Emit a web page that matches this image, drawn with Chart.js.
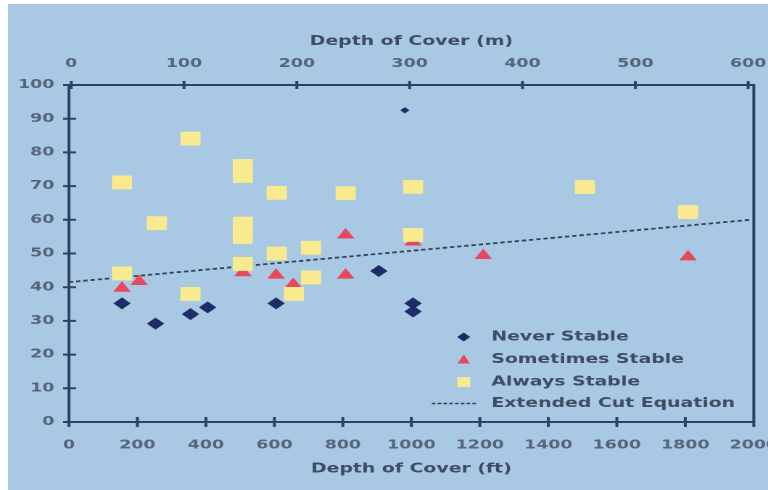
<!DOCTYPE html>
<html>
<head>
<meta charset="utf-8">
<script src="https://cdn.jsdelivr.net/npm/chart.js@4.4.1/dist/chart.umd.min.js"></script>
<style>
  html, body { margin: 0; padding: 0; background: #ffffff; overflow: hidden; }
  #wrap { position: absolute; left: 8px; top: 4px; width: 760px; height: 486px; background: #a8c8e4; }
  /* the slide photo is stretched sideways, so the canvas is too */
  #chart-canvas { display: block; filter: blur(0.5px); }
</style>
</head>
<body>
<div id="wrap">
  <canvas id="chart-canvas" width="524" height="486" style="width:760px;height:486px"></canvas>
</div>
<script>
// tick values
const ftTicks = [0, 200, 400, 600, 800, 1000, 1200, 1400, 1600, 1800, 2000];
const mTicks = [0, 100, 200, 300, 400, 500, 600];
// metre axis as printed on the slide (slightly off the exact ft conversion)
const mMin = -2;
const mMax = 605;

// Never Stable (diamonds)
const neverX = [155, 253, 355, 405, 605, 905, 1005, 1005, 981];
const neverY = [35.2, 29.2, 32, 34, 35.2, 44.8, 35.2, 32.8, 92.5];

// Sometimes Stable (triangles)
const sometimesX = [155, 205, 508, 605, 655, 808, 808, 1005, 1210, 1808];
const sometimesY = [39.7, 41.7, 44.3, 43.6, 40.8, 43.6, 55.5, 53.4, 49.4, 49];

// Always Stable (squares)
const alwaysX = [155, 155, 257, 355, 355, 508, 508, 508, 508, 508, 607, 607, 657, 707, 707, 808, 1005, 1005, 1507, 1808];
const alwaysY = [71.1, 44.1, 59, 84.1, 38, 76, 73, 58.9, 54.9, 46.9, 68, 50, 38, 51.7, 42.9, 67.9, 69.8, 55.5, 69.7, 62.3];

// Extended Cut Equation
const cutX = [0, 1990];
const cutY = [41.5, 60];

const legendLabels = ['Never Stable', 'Sometimes Stable', 'Always Stable', 'Extended Cut Equation'];

const axisColor = '#2e4360';
const tickColor = '#56657a';
const textColor = '#3f4d64';
const fontFamily = '"DejaVu Sans", sans-serif';

const colNever = '#1e2c68';
const colSometimes = '#e8475d';
const colAlways = '#f9ea90';
const colCut = '#36425a';

function toPoints(xs, ys) {
    return xs.map((x, i) => ({ x: x, y: ys[i] }));
}

// frame + crossing tick marks
const framePlugin = {
    id: 'frame',
    beforeDatasetsDraw(chart) {
        const { ctx, chartArea: a, scales } = chart;
        ctx.save();
        ctx.strokeStyle = axisColor;
        ctx.lineWidth = 2;
        ctx.beginPath();
        ctx.rect(a.left, a.top, a.right - a.left, a.bottom - a.top);
        scales.y.ticks.forEach(t => {
            const py = scales.y.getPixelForValue(t.value);
            ctx.moveTo(a.left - 4, py);
            ctx.lineTo(a.left + 5, py);
        });
        scales.x.ticks.forEach(t => {
            const px = scales.x.getPixelForValue(t.value);
            ctx.moveTo(px, a.bottom - 5);
            ctx.lineTo(px, a.bottom + 5);
        });
        scales.x2.ticks.forEach(t => {
            const px = scales.x2.getPixelForValue(t.value);
            ctx.moveTo(px, a.top - 4);
            ctx.lineTo(px, a.top + 4);
        });
        ctx.stroke();
        ctx.restore();
    }
};

// legend sits inside the plot, lower right
const legendPlugin = {
    id: 'innerLegend',
    afterDraw(chart) {
        const { ctx, chartArea: a } = chart;
        const mx = a.right - 200;
        const tx = a.right - 181;
        const rows = [a.bottom - 85, a.bottom - 62.5, a.bottom - 40, a.bottom - 18.5];
        ctx.save();

        // diamond
        ctx.fillStyle = colNever;
        ctx.beginPath();
        ctx.moveTo(mx, rows[0] - 4.5);
        ctx.lineTo(mx + 4.5, rows[0]);
        ctx.lineTo(mx, rows[0] + 4.5);
        ctx.lineTo(mx - 4.5, rows[0]);
        ctx.closePath();
        ctx.fill();

        // triangle
        ctx.fillStyle = colSometimes;
        ctx.beginPath();
        ctx.moveTo(mx, rows[1] - 5);
        ctx.lineTo(mx + 4.3, rows[1] + 4);
        ctx.lineTo(mx - 4.3, rows[1] + 4);
        ctx.closePath();
        ctx.fill();

        // square
        ctx.fillStyle = colAlways;
        ctx.fillRect(mx - 4.5, rows[2] - 5, 9, 10);

        // dashed sample
        ctx.strokeStyle = colCut;
        ctx.lineWidth = 1.5;
        ctx.setLineDash([2.5, 1.5]);
        ctx.beginPath();
        ctx.moveTo(a.right - 222, rows[3]);
        ctx.lineTo(a.right - 191.5, rows[3]);
        ctx.stroke();
        ctx.setLineDash([]);

        ctx.fillStyle = textColor;
        ctx.font = 'bold 13px ' + fontFamily;
        ctx.textAlign = 'left';
        ctx.textBaseline = 'middle';
        legendLabels.forEach((lbl, i) => ctx.fillText(lbl, tx, rows[i]));
        ctx.restore();
    }
};

const ctx = document.getElementById('chart-canvas').getContext('2d');

new Chart(ctx, {
    type: 'scatter',
    data: {
        datasets: [
            {
                label: 'Always Stable',
                data: toPoints(alwaysX, alwaysY),
                pointStyle: 'rect',
                pointRadius: 9.8,
                backgroundColor: colAlways,
                borderWidth: 0,
                order: 1
            },
            {
                label: 'Sometimes Stable',
                data: toPoints(sometimesX, sometimesY),
                pointStyle: 'triangle',
                pointRadius: 7,
                backgroundColor: colSometimes,
                borderWidth: 0,
                order: 2
            },
            {
                label: 'Never Stable',
                data: toPoints(neverX, neverY),
                pointStyle: 'rectRot',
                pointRadius: (c) => c.dataIndex === neverX.length - 1 ? 3.2 : 6,
                backgroundColor: colNever,
                borderWidth: 0,
                order: 3
            },
            {
                label: 'Extended Cut Equation',
                type: 'line',
                data: toPoints(cutX, cutY),
                showLine: true,
                pointRadius: 0,
                borderColor: colCut,
                borderWidth: 1.8,
                borderDash: [3, 2],
                fill: false,
                order: 4
            }
        ]
    },
    options: {
        responsive: false,
        devicePixelRatio: 2,
        animation: false,
        events: [],
        layout: { padding: { left: 0, right: 9, top: 0, bottom: 0 } },
        plugins: {
            legend: { display: false },
            tooltip: { enabled: false },
            title: { display: false }
        },
        scales: {
            x: {
                type: 'linear',
                position: 'bottom',
                min: 0,
                max: 2000,
                grid: { display: false, drawTicks: false },
                border: { display: false },
                afterBuildTicks(scale) {
                    scale.ticks = ftTicks.map(v => ({ value: v }));
                },
                ticks: {
                    padding: 16,
                    autoSkip: false,
                    maxRotation: 0,
                    callback: (v) => String(v),
                    color: tickColor,
                    font: { family: fontFamily, size: 12, weight: 'bold' }
                },
                title: {
                    display: true,
                    text: 'Depth of Cover (ft)',
                    color: textColor,
                    font: { family: fontFamily, size: 13, weight: 'bold' },
                    padding: { top: 0, bottom: 13 }
                },
                afterFit(scale) {
                    scale.height = 68;
                    scale.paddingLeft = 0;
                    scale.paddingRight = 0;
                }
            },
            x2: {
                type: 'linear',
                position: 'top',
                min: mMin,
                max: mMax,
                grid: { display: false, drawTicks: false },
                border: { display: false },
                afterBuildTicks(scale) {
                    scale.ticks = mTicks.map(v => ({ value: v }));
                },
                ticks: {
                    padding: 14,
                    autoSkip: false,
                    maxRotation: 0,
                    callback: (v) => String(v),
                    color: tickColor,
                    font: { family: fontFamily, size: 12, weight: 'bold' }
                },
                title: {
                    display: true,
                    text: 'Depth of Cover (m)',
                    color: textColor,
                    font: { family: fontFamily, size: 13, weight: 'bold' },
                    padding: { top: 30, bottom: 0 }
                },
                afterFit(scale) {
                    scale.height = 81;
                    scale.paddingLeft = 0;
                    scale.paddingRight = 0;
                }
            },
            y: {
                type: 'linear',
                min: 0,
                max: 100,
                grid: { display: false, drawTicks: false },
                border: { display: false },
                ticks: {
                    stepSize: 10,
                    padding: 10,
                    color: tickColor,
                    font: { family: fontFamily, size: 12, weight: 'bold' }
                },
                afterFit(scale) {
                    scale.width = 42;
                    scale.paddingTop = 0;
                    scale.paddingBottom = 0;
                }
            }
        }
    },
    plugins: [framePlugin, legendPlugin]
});
</script>
</body>
</html>
